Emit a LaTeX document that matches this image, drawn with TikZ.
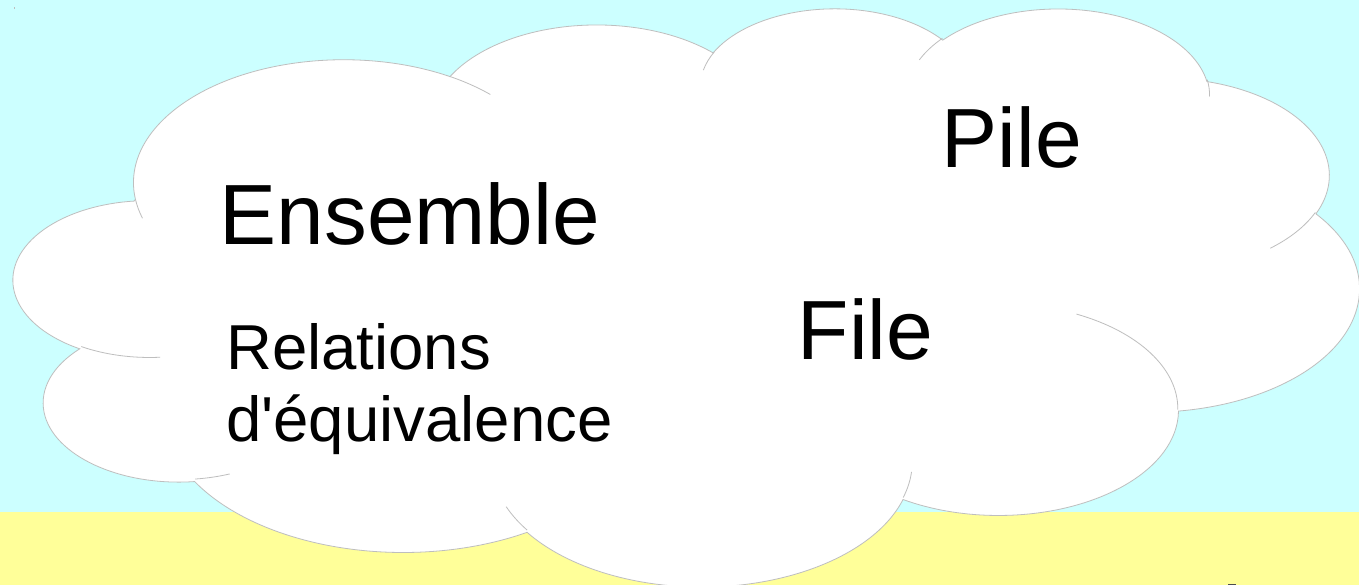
\documentclass[tikz,border=0pt]{standalone}
\usepackage{fontspec}
\setmainfont{Liberation Sans}
\definecolor{sky}{RGB}{204,255,255}
\definecolor{ground}{RGB}{255,255,153}
\definecolor{cloudline}{RGB}{190,190,190}
\tikzset{
  bigtxt/.style={inner sep=0pt, anchor=base west, font=\fontsize{84}{100}\selectfont},
  midtxt/.style={inner sep=0pt, anchor=base west, font=\fontsize{63.5}{72}\selectfont},
  cloudedge/.style={draw=cloudline, line width=0.8pt},
}
\begin{document}
\begin{tikzpicture}[x=1pt,y=-1pt]
\useasboundingbox (0,0) rectangle (1359,585);
\fill[sky] (0,0) rectangle (1359,512);
\fill[ground] (0,512) rectangle (1359,585);
\fill[cloudline] (13.5,7.5) rectangle (15,9);
\fill[black!70] (1228,583.5) rectangle (1236,585);
\begin{scope}[xshift=14pt,yshift=-7pt,x=3.11343pt,y=-1.33796pt]
  \filldraw[fill=white, cloudedge] (39.00,143.70)
    arc[start angle=172.25, delta angle=128.11, x radius=67.53, y radius=91.90]
    arc[start angle=-152.03, delta angle=106.57, x radius=53.33, y radius=72.67]
    arc[start angle=-153.49, delta angle=116.16, x radius=43.65, y radius=59.45]
    arc[start angle=-139.71, delta angle=129.50, x radius=48.57, y radius=65.95]
    arc[start angle=-74.77, delta angle=97.98, x radius=53.33, y radius=72.73]
    arc[start angle=-37.52, delta angle=119.38, x radius=67.75, y radius=92.20]
    arc[start angle=0.46, delta angle=121.51, x radius=57.85, y radius=78.67]
    arc[start angle=16.84, delta angle=129.39, x radius=67.52, y radius=92.15]
    arc[start angle=58.98, delta angle=91.21, x radius=77.20, y radius=105.43]
    arc[start angle=83.31, delta angle=139.79, x radius=43.60, y radius=59.18]
    arc[start angle=120.36, delta angle=143.75, x radius=43.45, y radius=59.45]
    -- cycle;
  \draw[cloudedge]
    (46.93,261.77) arc[start angle=85.55, delta angle=34.81, x radius=43.45, y radius=59.45]
    (69.28,348.99) arc[start angle=68.23, delta angle=15.08, x radius=43.60, y radius=59.18]
    (164.78,390.90) arc[start angle=146.23, delta angle=12.24, x radius=67.52, y radius=92.15]
    (288.27,347.51) arc[start angle=4.74, delta angle=12.10, x radius=67.52, y radius=92.15]
    (341.29,229.54) arc[start angle=-64.03, delta angle=64.49, x radius=57.85, y radius=78.67]
    (417.98,153.54) arc[start angle=23.21, delta angle=26.43, x radius=53.33, y radius=72.73]
    (383.24,54.26) arc[start angle=-10.21, delta angle=11.03, x radius=48.57, y radius=65.95]
    (290.78,39.52) arc[start angle=-156.29, delta angle=16.58, x radius=48.57, y radius=65.95]
    (221.41,47.20) arc[start angle=-167.73, delta angle=14.24, x radius=43.65, y radius=59.45]
    (140.00,51.92) arc[start angle=-59.64, delta angle=13.90, x radius=67.53, y radius=91.90]
    (41.27,157.89) arc[start angle=163.19, delta angle=9.06, x radius=67.53, y radius=91.90];
\end{scope}
\node[bigtxt, font=\fontsize{85.5}{100}\selectfont] (ensemble) at (219.5,244) {Ensemble};
\node[bigtxt] (pile) at (941.5,167.5) {Pile};
\node[bigtxt] (file) at (797.5,359.5) {File};
\node[midtxt] (rel1) at (226,369.5) {Relations};
\node[midtxt] (rel2) at (226,441) {d\textquotesingle équivalence};
\end{tikzpicture}
\end{document}
